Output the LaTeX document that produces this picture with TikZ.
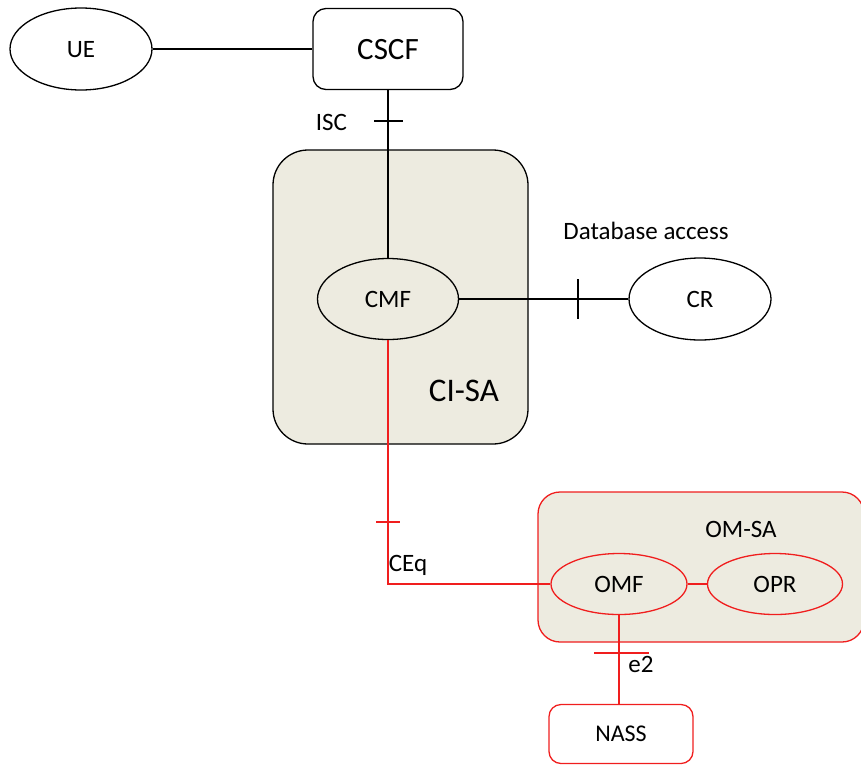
\documentclass[tikz,border=0pt]{standalone}
\usepackage{fontspec}
\setmainfont{Carlito}
\usetikzlibrary{shapes.geometric}
\definecolor{saFill}{HTML}{EDEBE0}
\definecolor{omRed}{HTML}{F01E1E}
\tikzset{
  lbl/.style={inner sep=0pt, text height=16pt, text depth=0pt, font=\fontsize{25}{29}\selectfont},
  ell/.style={ellipse, draw, line width=1.3pt, inner sep=0pt, text height=16pt, text depth=0pt,
              font=\fontsize{25}{29}\selectfont},
  conn/.style={line width=1.3pt},
  redconn/.style={line width=1.3pt, draw=omRed},
  tickmark/.style={line width=1.3pt}
}
\begin{document}
\begin{tikzpicture}[x=1pt, y=-1pt]
\useasboundingbox (0,0) rectangle (861,764);

% service areas (containers)
\draw[line width=1.3pt, fill=saFill, rounded corners=35pt] (273,150) rectangle (528,444);
\draw[line width=1.3pt, draw=omRed, fill=saFill, rounded corners=22pt] (538,492) rectangle (864,642);
\node[inner sep=0pt, text height=21pt, text depth=0pt, font=\fontsize{33}{38}\selectfont] (cisa) at (464,391) {CI-SA};
\node[lbl] (omsa) at (741,529) {OM-SA};

% functional entities
\node[ell, fill=white, minimum width=142pt, minimum height=82pt] (UE) at (81,49) {UE};
\node[draw, line width=1.3pt, rounded corners=13pt, minimum width=150pt, minimum height=81pt,
      inner sep=0pt, text height=20pt, text depth=0pt, font=\fontsize{31}{36}\selectfont] (CSCF) at (388,49) {CSCF};
\node[ell, fill=saFill, minimum width=141pt, minimum height=81pt] (CMF) at (388,299) {CMF};
\node[ell, fill=white, minimum width=142pt, minimum height=82pt] (CR) at (700,299) {CR};
\node[ell, draw=omRed, fill=saFill, minimum width=136pt, minimum height=61pt] (OMF) at (619,584) {OMF};
\node[ell, draw=omRed, fill=saFill, minimum width=135pt, minimum height=61pt] (OPR) at (775,584) {OPR};
\node[draw=omRed, line width=1.3pt, rounded corners=12pt, minimum width=144pt, minimum height=59pt,
      inner sep=0pt, text height=15pt, text depth=0pt, font=\fontsize{24}{28}\selectfont] (NASS) at (621,734) {NASS};

% reference points
\draw[conn] (UE.east) -- (CSCF.west);
\draw[conn] (CSCF.south) -- (CSCF.south |- CMF.north);
\draw[conn] (CMF.east) -- (CR.west);
\draw[redconn] (CMF.south) |- (OMF.west);
\draw[redconn] (OMF.east) -- (OPR.west);
\draw[redconn] (OMF.south) -- (OMF.south |- NASS.north);

% interface tick marks
\coordinate (tISC) at (388,121);
\coordinate (tDB) at (578,299);
\coordinate (tCEq) at (388,522);
\coordinate (tE2) at (619,653);
\draw[tickmark] ([xshift=-14pt]tISC) -- ([xshift=15pt]tISC);
\draw[tickmark] ([yshift=20pt]tDB) -- ([yshift=-20pt]tDB);
\draw[tickmark, draw=omRed] ([xshift=-12pt]tCEq) -- ([xshift=12pt]tCEq);
\draw[tickmark, draw=omRed] ([xshift=-25pt]tE2) -- ([xshift=30pt]tE2);

% interface labels
\node[lbl] (lISC) at (331.5,122) {ISC};
\node[lbl] (lDB) at (646,231) {Database access};
\node[lbl] (lCEq) at (408,563) {CEq};
\node[lbl] (lE2) at (641,664) {e2};
\end{tikzpicture}
\end{document}
